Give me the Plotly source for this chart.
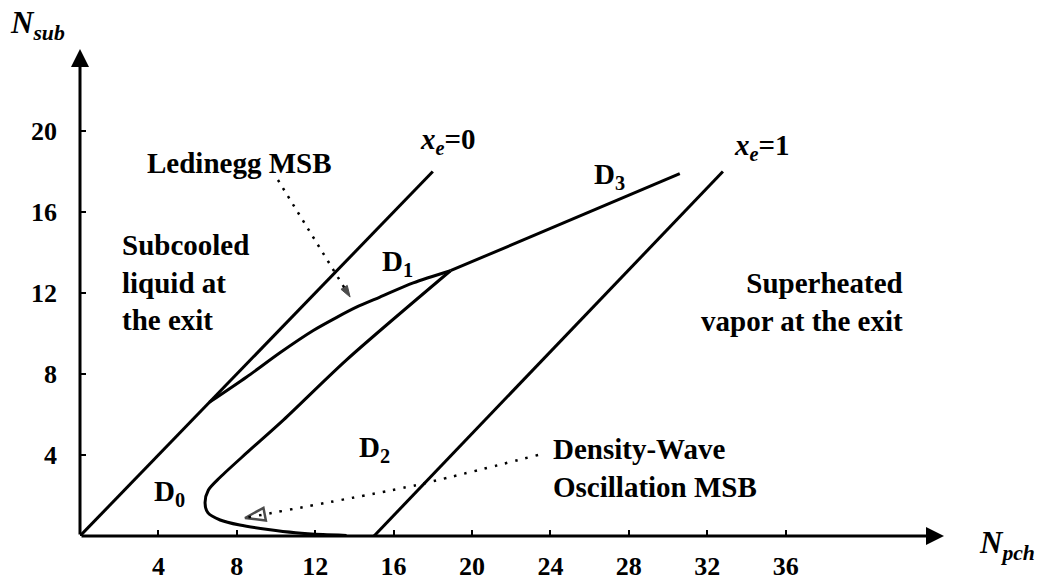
import plotly.graph_objects as go

# Boundary lines of constant exit quality (N_pch vs N_sub)
xe0_x = [0.0, 18.0]
xe0_y = [0.0, 18.0]
xe1_x = [15.0, 32.8]
xe1_y = [0.0, 18.0]

# Ledinegg marginal stability boundary (upper curve) and its continuation D3
led_x = [6.6, 8.5, 10.2, 11.9, 13.1, 14.1, 15.3, 17.0, 18.9]
led_y = [6.6, 7.85, 9.05, 10.15, 10.8, 11.3, 11.8, 12.5, 13.1]
d3_x = [18.9, 30.6]
d3_y = [13.1, 17.9]

# Density-wave oscillation marginal stability boundary
dwo_x = [18.9, 13.6, 10.4, 8.5, 7.15, 6.55, 6.38, 6.53, 7.15, 8.15, 9.6, 11.0, 12.4, 13.6]
dwo_y = [13.1, 8.7, 5.75, 4.1, 2.9, 2.27, 1.63, 1.14, 0.79, 0.54, 0.32, 0.16, 0.07, 0.03]

# Leader lines pointing from labels to the curves
led_ptr_x = [10.1, 13.78]
led_ptr_y = [17.58, 11.8]
dwo_ptr_x = [23.37, 17.19, 8.42]
dwo_ptr_y = [4.0, 2.52, 0.89]

x_ticks = [4, 8, 12, 16, 20, 24, 28, 32, 36]
y_ticks = [4, 8, 12, 16, 20]

FONT = "Liberation Serif"
LW = 3

fig = go.Figure()

solid = dict(color="black", width=LW)
fig.add_trace(go.Scatter(x=xe0_x, y=xe0_y, mode="lines", line=solid))
fig.add_trace(go.Scatter(x=xe1_x, y=xe1_y, mode="lines", line=solid))
fig.add_trace(go.Scatter(x=led_x, y=led_y, mode="lines",
                         line=dict(color="black", width=LW, shape="spline", smoothing=0.8)))
fig.add_trace(go.Scatter(x=d3_x, y=d3_y, mode="lines", line=solid))
fig.add_trace(go.Scatter(x=dwo_x, y=dwo_y, mode="lines",
                         line=dict(color="black", width=LW, shape="spline", smoothing=0.8)))

# dotted leader with a filled arrowhead
fig.add_trace(go.Scatter(
    x=led_ptr_x, y=led_ptr_y, mode="lines+markers",
    line=dict(color="black", width=2.5, dash="2.5px,7px"),
    marker=dict(symbol="arrow", size=[0, 12], color="black", angleref="previous",
                line=dict(width=1, color="black")),
))
# dotted leader with an open arrowhead
fig.add_trace(go.Scatter(
    x=dwo_ptr_x, y=dwo_ptr_y, mode="lines+markers",
    line=dict(color="black", width=2.5, dash="2.5px,8px", shape="spline", smoothing=0.6),
    marker=dict(symbol="arrow-open", size=[0, 0, 21], color="black", angleref="previous",
                line=dict(width=2.5, color="black")),
))

XMAX = 44.13
YMAX = 24.1

annotations = []
# axis arrows
annotations.append(dict(x=XMAX - 0.05, y=0, ax=0, ay=0, xref="x", yref="y", axref="x", ayref="y",
                        text="", showarrow=True, arrowhead=2, arrowsize=1.2, arrowwidth=3,
                        arrowcolor="black"))
annotations.append(dict(x=0, y=YMAX - 0.05, ax=0, ay=0, xref="x", yref="y", axref="x", ayref="y",
                        text="", showarrow=True, arrowhead=2, arrowsize=1.2, arrowwidth=3,
                        arrowcolor="black"))


def label(text, x, y, xanchor="left", align="left", size=29):
    annotations.append(dict(text=text, x=x, y=y, xref="x", yref="y", showarrow=False,
                            xanchor=xanchor, yanchor="middle", align=align,
                            font=dict(family=FONT, size=size, color="black", weight="bold")))


label("Ledinegg MSB", 8.16, 18.42, xanchor="center", align="center")
label("Subcooled<br>liquid at<br>the exit", 2.04, 12.54)
label("Superheated<br>vapor at the exit", 42.1, 11.56, xanchor="right", align="right")
label("Density-Wave<br>Oscillation MSB", 24.03, 3.36)
label("D<sub>0</sub>", 3.67, 2.1)
label("D<sub>1</sub>", 15.3, 13.5)
label("D<sub>2</sub>", 14.13, 4.3)
label("D<sub>3</sub>", 26.1, 17.8)
label("<i>x<sub>e</sub></i>=0", 17.24, 19.5)
label("<i>x<sub>e</sub></i>=1", 33.27, 19.2)

annotations.append(dict(text="<i>N<sub>sub</sub></i>", x=-0.0832, y=1.047, xref="paper", yref="paper",
                        showarrow=False, xanchor="left", yanchor="middle",
                        font=dict(family=FONT, size=31, color="black", weight="bold")))
annotations.append(dict(text="<i>N<sub>pch</sub></i>", x=1.037, y=-0.018, xref="paper", yref="paper",
                        showarrow=False, xanchor="left", yanchor="middle",
                        font=dict(family=FONT, size=31, color="black", weight="bold")))

axis_common = dict(showgrid=False, zeroline=False, showline=False, ticks="inside",
                   ticklen=6, tickwidth=2, tickcolor="black", automargin=False,
                   tickfont=dict(family=FONT, size=26, color="black", weight="bold"))

fig.update_layout(
    width=1057, height=585,
    margin=dict(l=80, r=112, t=48, b=49, pad=0),
    paper_bgcolor="white", plot_bgcolor="white",
    showlegend=False,
    xaxis=dict(range=[0, XMAX], tickvals=x_ticks, ticklabelstandoff=12, **axis_common),
    yaxis=dict(range=[0, YMAX], tickvals=y_ticks, ticklabelstandoff=22, **axis_common),
    annotations=annotations,
)

fig.write_html("out.html")
